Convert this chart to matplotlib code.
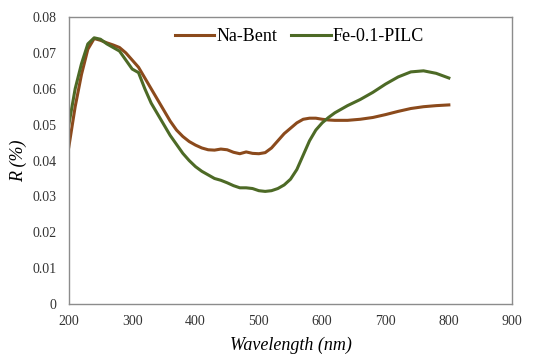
import matplotlib.pyplot as plt
import numpy as np

# Wavelength (nm)
wl_na = [200, 210, 220, 230, 240, 250, 260, 270, 280, 290, 300, 310, 320, 330,
         340, 350, 360, 370, 380, 390, 400, 410, 420, 430, 440, 450, 460, 470,
         480, 490, 500, 510, 520, 530, 540, 550, 560, 570, 580, 590, 600, 610,
         620, 640, 660, 680, 700, 720, 740, 760, 780, 800]
r_na = [0.0438, 0.055, 0.064, 0.071, 0.074, 0.0735, 0.0728, 0.0722, 0.0715,
        0.070, 0.068, 0.066, 0.063, 0.060, 0.057, 0.054, 0.051, 0.0485, 0.0467,
        0.0453, 0.0443, 0.0435, 0.043, 0.0429, 0.0432, 0.043, 0.0423, 0.0419,
        0.0424, 0.042, 0.0419, 0.0422, 0.0435, 0.0455, 0.0475, 0.049, 0.0505,
        0.0515, 0.0518, 0.0518, 0.0515, 0.0513, 0.0512, 0.0512, 0.0515, 0.052,
        0.0528, 0.0537, 0.0545, 0.055, 0.0553, 0.0555]

wl_fe = wl_na
r_fe = [0.050, 0.060, 0.067, 0.0725, 0.0742, 0.0738, 0.0725, 0.0715, 0.0705,
        0.068, 0.0655, 0.0645, 0.060, 0.056, 0.053, 0.050, 0.047, 0.0445, 0.042,
        0.040, 0.0383, 0.037, 0.036, 0.035, 0.0345, 0.0338, 0.033, 0.0324,
        0.0324, 0.0322, 0.0316, 0.0314, 0.0316, 0.0322, 0.0332, 0.0348, 0.0375,
        0.0415, 0.0455, 0.0485, 0.0505, 0.052, 0.0533, 0.0553, 0.057, 0.059,
        0.0613, 0.0633, 0.0647, 0.065, 0.0643, 0.063]

plt.rcParams['font.family'] = ['Liberation Serif', 'DejaVu Serif']

fig = plt.figure(figsize=(5.42, 3.54), dpi=100)
ax = fig.add_axes([0.127, 0.141, 0.818, 0.811])

ax.plot(wl_na, r_na, color='#8B4A1C', lw=2.2, label='Na-Bent')
ax.plot(wl_fe, r_fe, color='#4D6A26', lw=2.2, label='Fe-0.1-PILC')

ax.set_xlim(200, 900)
ax.set_ylim(0, 0.08)
ax.set_xticks(np.arange(200, 901, 100))
ax.set_yticks(np.arange(0, 0.081, 0.01))
ax.set_yticklabels(['0'] + ['%.2f' % v for v in np.arange(0.01, 0.081, 0.01)])
ax.tick_params(length=0, labelsize=10, colors='#333333')
ax.tick_params(axis='y', pad=9)
ax.tick_params(axis='x', pad=8)

for s in ax.spines.values():
    s.set_color('#8c8c8c')
    s.set_linewidth(1.0)

ax.set_xlabel('Wavelength (nm)', fontsize=13, style='italic', labelpad=6)
ax.set_ylabel('R (%)', fontsize=13, style='italic', labelpad=4)

ax.legend(loc='upper center', bbox_to_anchor=(0.52, 1.0), ncol=2, frameon=False,
          fontsize=13, handlelength=2.2, handletextpad=0.1, columnspacing=0.8,
          borderaxespad=0.2)

fig.savefig('out.png', dpi=100)
